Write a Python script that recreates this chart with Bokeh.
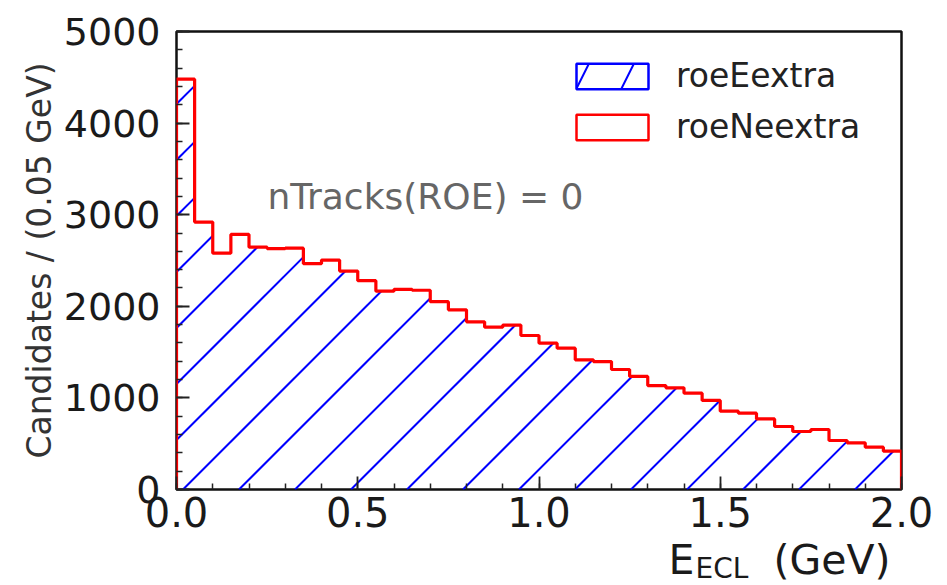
import numpy as np
from bokeh.plotting import figure
from bokeh.layouts import column
from bokeh.models import (Label, Legend, LegendItem, SingleIntervalTicker,
                          PrintfTickFormatter, Range1d)
from bokeh.embed import file_html
from bokeh.resources import INLINE

# ---- data ----
bin_width = 0.05
x_min, x_max = 0.0, 2.0
y_min, y_max = 0, 5000
counts = [4480, 2920, 2580, 2785, 2645, 2630, 2635, 2465, 2505, 2385,
          2280, 2165, 2185, 2175, 2050, 1962, 1830, 1772, 1795, 1681,
          1597, 1543, 1416, 1397, 1310, 1234, 1135, 1110, 1052, 972,
          855, 833, 771, 688, 633, 655, 535, 510, 462, 418]
series_labels = ["roeEextra", "roeNeextra"]
y_label = "Candidates / (0.05 GeV)"
x_label_main = "E"
x_label_sub = "ECL"
x_label_unit = "(GeV)"
annotation = "nTracks(ROE) = 0"

# ---- layout / style constants ----
W, H_MAIN, H_XLAB, OVERLAP = 947, 545, 52, 12
BORDER_L, BORDER_R, BORDER_T = 176, 46, 31
FRAME_W = W - BORDER_L - BORDER_R          # 725
FRAME_H = 458
BORDER_B = H_MAIN - BORDER_T - FRAME_H     # 56
HATCH_SPACING_PX = 56
HATCH_PHASE_PX = 6.5
FONT = "DejaVu Sans"

counts = np.array(counts, dtype=float)
edges = x_min + bin_width * np.arange(len(counts) + 1)

# step outline
xs = np.repeat(edges, 2)
ys = np.concatenate([[0.0], np.repeat(counts, 2), [0.0]])

# 45-degree hatch lines clipped to the histogram shape
sx = FRAME_W / (x_max - x_min)
sy = FRAME_H / (y_max - y_min)
slope = sx / sy
spacing = HATCH_SPACING_PX / sx
phase = HATCH_PHASE_PX / sx
kmin = int(np.floor((x_min - counts.max() / slope - phase) / spacing)) - 1
kmax = int(np.ceil((x_max - phase) / spacing)) + 1
hx0, hy0, hx1, hy1 = [], [], [], []
for k in range(kmin, kmax + 1):
    c0 = phase + k * spacing
    pieces = []
    for a, b, h in zip(edges[:-1], edges[1:], counts):
        lo = max(a, c0)
        hi = min(b, c0 + h / slope)
        if hi > lo + 1e-12:
            if pieces and abs(pieces[-1][1] - lo) < 1e-9:
                pieces[-1][1] = hi
            else:
                pieces.append([lo, hi])
    for lo, hi in pieces:
        hx0.append(lo); hy0.append(slope * (lo - c0))
        hx1.append(hi); hy1.append(slope * (hi - c0))

p = figure(width=W, height=H_MAIN, output_backend="svg", toolbar_location=None,
           x_range=Range1d(x_min, x_max), y_range=Range1d(y_min, y_max),
           min_border_left=BORDER_L, min_border_right=BORDER_R,
           min_border_top=BORDER_T, min_border_bottom=BORDER_B)
p.background_fill_color = "white"
p.border_fill_color = "white"
p.grid.visible = False
p.outline_line_color = "#111111"
p.outline_line_width = 2.5

# hatched histogram (roeEextra)
p.segment(hx0, hy0, hx1, hy1, line_color="blue", line_width=2)

# red step histogram (roeNeextra)
p.line(xs, ys, line_color="red", line_width=3.2)

# legend proxies (no visible data)
nan = [np.nan]
leg_blue = p.quad(left=nan, right=nan, top=nan, bottom=nan, fill_alpha=0,
                  line_color="blue", line_width=2.5, hatch_pattern="/",
                  hatch_color="blue", hatch_scale=90, hatch_weight=2)
leg_red = p.quad(left=nan, right=nan, top=nan, bottom=nan, fill_alpha=0,
                 line_color="red", line_width=2.5)
legend = Legend(items=[LegendItem(label=series_labels[0], renderers=[leg_blue]),
                       LegendItem(label=series_labels[1], renderers=[leg_red])],
                location=(391, 343), glyph_width=90, glyph_height=32,
                label_standoff=19, spacing=12, padding=0, margin=0,
                border_line_alpha=0, background_fill_alpha=0,
                label_text_font_size="33px", label_text_font=FONT,
                label_text_color="#222222")
p.add_layout(legend)

# axes
for ax in (p.xaxis[0], p.yaxis[0]):
    ax.axis_line_alpha = 0
    ax.major_tick_in = 13
    ax.major_tick_out = 0
    ax.minor_tick_in = 6
    ax.minor_tick_out = 0
    ax.major_tick_line_color = "#222222"
    ax.minor_tick_line_color = "#222222"
    ax.major_tick_line_width = 1.8
    ax.minor_tick_line_width = 1.5
    ax.major_label_text_font = FONT
    ax.major_label_text_color = "#1a1a1a"

p.xaxis.ticker = SingleIntervalTicker(interval=0.5, num_minor_ticks=5)
p.xaxis.formatter = PrintfTickFormatter(format="%.1f")
p.xaxis.major_label_text_font_size = "40px"
p.xaxis.major_label_standoff = 7

p.yaxis.ticker = SingleIntervalTicker(interval=1000, num_minor_ticks=5)
p.yaxis.major_label_text_font_size = "38px"
p.yaxis.major_label_standoff = 16
p.yaxis.axis_label = y_label
p.yaxis.axis_label_text_font = FONT
p.yaxis.axis_label_text_font_size = "33px"
p.yaxis.axis_label_text_font_style = "normal"
p.yaxis.axis_label_text_color = "#333333"
p.yaxis.axis_label_standoff = 2

# annotation
p.add_layout(Label(x=0.251, y=3204, text=annotation, text_baseline="middle",
                   text_font=FONT, text_font_size="36px", text_color="#666666"))

# x-axis label strip (with subscript), slightly overlapping the main figure.
# Its frame is aligned with the main frame by the column layout, so its
# x range is expressed in page pixels of that frame.
q = figure(width=W, height=H_XLAB, output_backend="svg", toolbar_location=None,
           x_range=Range1d(BORDER_L, W - BORDER_R), y_range=Range1d(0, H_XLAB),
           min_border=0, styles={"margin-top": f"-{OVERLAP}px"})
q.axis.visible = False
q.grid.visible = False
q.outline_line_color = None
q.background_fill_alpha = 0
q.border_fill_alpha = 0
q.add_layout(Label(x=668, y=25.2, text=x_label_main, text_baseline="middle",
                   text_font=FONT, text_font_size="41px", text_color="#1a1a1a"))
q.add_layout(Label(x=695, y=16.7, text=x_label_sub, text_baseline="middle",
                   text_font=FONT, text_font_size="28px", text_color="#1a1a1a"))
q.add_layout(Label(x=773, y=25.2, text=x_label_unit, text_baseline="middle",
                   text_font=FONT, text_font_size="41px", text_color="#1a1a1a"))

page = column(p, q, spacing=0)
open("out.html", "w").write(file_html(page, INLINE))
